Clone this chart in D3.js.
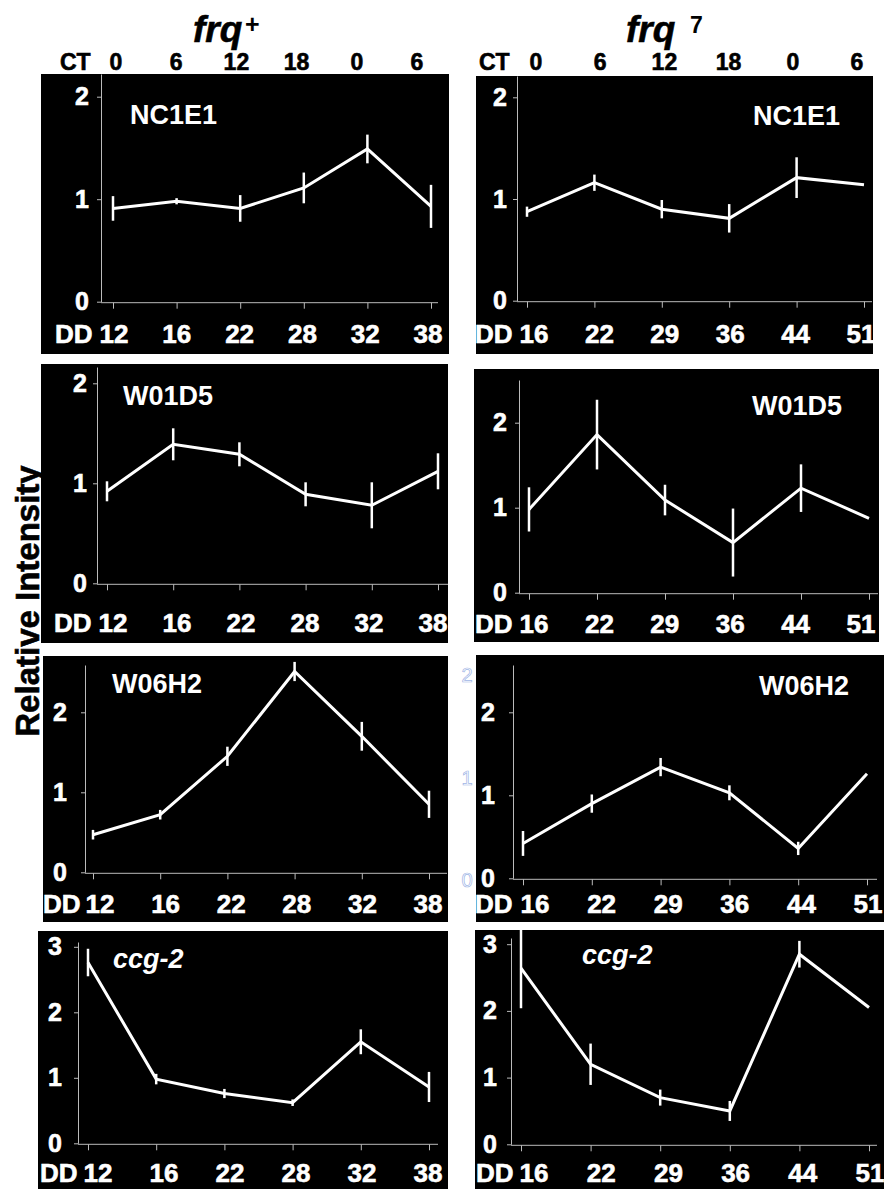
<!DOCTYPE html>
<html>
<head>
<meta charset="utf-8">
<script src="https://cdn.jsdelivr.net/npm/d3@7"></script>
<style>
  body { margin: 0; background: #fff; }
  svg { display: block; font-family: "Liberation Sans", Arial, sans-serif; font-weight: bold; }
  text.heavy { stroke-width: 0.6px; paint-order: stroke; }
</style>
</head>
<body>
<svg></svg>
<script>
'use strict';

const width = 884, height = 1189;

// sampling times (hours in DD) and circadian time labels
let ddPlus = [12, 16, 22, 28, 32, 38];
let ddSeven = [16, 22, 29, 36, 44, 51];
let ctHours = ["0", "6", "12", "18", "0", "6"];

// relative intensity, frq+ strain
let nc1e1Plus = [0.91, 0.98, 0.91, 1.11, 1.49, 0.93];
let nc1e1PlusErr = [0.12, 0.03, 0.13, 0.15, 0.14, 0.21];
let w01d5Plus = [0.92, 1.39, 1.29, 0.89, 0.78, 1.12];
let w01d5PlusErr = [0.10, 0.16, 0.12, 0.12, 0.23, 0.18];
let w06h2Plus = [0.47, 0.72, 1.45, 2.51, 1.70, 0.85];
let w06h2PlusErr = [0.06, 0.06, 0.12, 0.12, 0.18, 0.17];
let ccg2Plus = [2.76, 0.98, 0.76, 0.62, 1.55, 0.86];
let ccg2PlusErr = [0.21, 0.08, 0.07, 0.05, 0.19, 0.23];

// relative intensity, frq7 strain
let nc1e1Seven = [0.875, 1.16, 0.90, 0.81, 1.21, 1.14];
let nc1e1SevenErr = [0.05, 0.08, 0.09, 0.14, 0.20, 0];
let w01d5Seven = [0.98, 1.86, 1.09, 0.59, 1.23, 0.875];
let w01d5SevenErr = [0.26, 0.41, 0.18, 0.40, 0.28, 0];
let w06h2Seven = [0.42, 0.90, 1.34, 1.03, 0.36, 1.26];
let w06h2SevenErr = [0.15, 0.11, 0.11, 0.09, 0.08, 0];
let ccg2Seven = [2.64, 1.20, 0.70, 0.50, 2.85, 2.05];
let ccg2SevenErr = [0.60, 0.31, 0.12, 0.15, 0.20, 0];

// panel layout (pixels), data pulled from the arrays above
let panels = [
  {gene: "NC1E1", dd: ddPlus, v: nc1e1Plus, e: nc1e1PlusErr, box: [41, 74, 449, 354],
   ax: 101, zero: 301.7, unit: 102.5, top: 74, xr: [113, 431], xEnd: 438, lab: [114, 428], ddX: 55, ddY: 343, tr: 89, gx: 130, gy: 124},
  {gene: "NC1E1", dd: ddSeven, v: nc1e1Seven, e: nc1e1SevenErr, box: [476, 76, 873, 354],
   ax: 517, zero: 300.7, unit: 101.7, top: 76, xr: [527, 864], xEnd: 872, lab: [534, 861], ddX: 475, ddY: 343, tr: 507, gx: 753, gy: 125},
  {gene: "W01D5", dd: ddPlus, v: w01d5Plus, e: w01d5PlusErr, box: [41, 364, 448, 643],
   ax: 97, zero: 583.3, unit: 100, top: 367, xr: [107, 438], xEnd: 448, lab: [113, 433], ddX: 54, ddY: 632, tr: 87, gx: 123, gy: 405},
  {gene: "W01D5", dd: ddSeven, v: w01d5Seven, e: w01d5SevenErr, box: [474, 369, 879, 642],
   ax: 519, zero: 592.7, unit: 85, top: 380, xr: [529, 869], xEnd: 878, lab: [534, 861], ddX: 475, ddY: 633, tr: 507, gx: 752, gy: 415},
  {gene: "W06H2", dd: ddPlus, v: w06h2Plus, e: w06h2PlusErr, box: [43, 656, 448, 922],
   ax: 85, zero: 872.3, unit: 80, top: 665, xr: [93, 429], xEnd: 447, lab: [100, 428], ddX: 43, ddY: 913, tr: 67, gx: 112, gy: 693},
  {gene: "W06H2", dd: ddSeven, v: w06h2Seven, e: w06h2SevenErr, box: [476, 655, 884, 922],
   ax: 513, zero: 878.3, unit: 83, top: 665, xr: [523, 867], xEnd: 877, lab: [535, 868], ddX: 475, ddY: 913, tr: 495, gx: 759, gy: 695},
  {gene: "ccg-2", italic: true, dd: ddPlus, v: ccg2Plus, e: ccg2PlusErr, box: [38, 931, 448, 1189],
   ax: 78, zero: 1143.3, unit: 65.5, top: 942, xr: [88, 429], xEnd: 438, lab: [98, 428], ddX: 40, ddY: 1182, tr: 62, gx: 113, gy: 968},
  {gene: "ccg-2", italic: true, dd: ddSeven, v: ccg2Seven, e: ccg2SevenErr, box: [475, 930, 884, 1189],
   ax: 511, zero: 1144.3, unit: 66.7, top: 938, xr: [521, 869], xEnd: 877, lab: [534, 870], ddX: 476, ddY: 1182, tr: 497, gx: 582, gy: 964}
];

// column headers
let heads = [
  {name: "frq", sup: "+", x: 193, supX: 245, supY: 33, ctX: 60, ct: [116, 417]},
  {name: "frq", sup: "7", x: 626, supX: 690, supY: 33, ctX: 479, ct: [536, 857]}
];

let svg = d3.select("svg")
  .attr("width", width)
  .attr("height", height)
  .attr("viewBox", [0, 0, width, height]);

svg.append("rect")
  .attr("width", width)
  .attr("height", height)
  .attr("fill", "#fff");

heads.forEach(h => {
  svg.append("text")
    .attr("class", "heavy")
    .attr("x", h.x)
    .attr("y", 42)
    .attr("font-size", 37)
    .attr("font-style", "italic")
    .attr("fill", "#000")
    .attr("stroke", "#000")
    .text(h.name);
  svg.append("text")
    .attr("x", h.supX)
    .attr("y", h.supY)
    .attr("font-size", h.sup == "+" ? 25 : 23)
    .attr("fill", "#000")
    .text(h.sup);

  let ct = d3.scalePoint().domain(d3.range(ctHours.length)).range(h.ct);
  svg.append("text")
    .attr("class", "heavy")
    .attr("x", h.ctX)
    .attr("y", 70)
    .attr("font-size", 23)
    .attr("fill", "#000")
    .attr("stroke", "#000")
    .text("CT");
  svg.append("g")
    .selectAll("text")
    .data(ctHours)
    .join("text")
      .attr("class", "heavy")
      .attr("x", (d, i) => ct(i))
      .attr("y", 70)
      .attr("text-anchor", "middle")
      .attr("font-size", 23)
      .attr("fill", "#000")
      .attr("stroke", "#000")
      .text(d => d);
});

svg.append("text")
  .attr("class", "heavy")
  .attr("transform", "translate(39,601) rotate(-90)")
  .attr("text-anchor", "middle")
  .attr("font-size", 33)
  .attr("fill", "#000")
  .attr("stroke", "#000")
  .text("Relative Intensity");

panels.forEach(p => {
  let g = svg.append("g");

  g.append("rect")
    .attr("x", p.box[0])
    .attr("y", p.box[1])
    .attr("width", p.box[2] - p.box[0])
    .attr("height", p.box[3] - p.box[1])
    .attr("fill", "#000");

  let yMax = (p.zero - p.top) / p.unit;
  let y = d3.scaleLinear().domain([0, yMax]).range([p.zero, p.top]);
  let x = d3.scalePoint().domain(p.dd).range(p.xr);
  let lx = d3.scalePoint().domain(p.dd).range(p.lab);

  let yAxis = g.append("g")
    .attr("transform", `translate(${p.ax},0)`)
    .call(d3.axisLeft(y)
      .tickValues(d3.range(0, Math.floor(yMax) + 1))
      .tickFormat(d3.format("d"))
      .tickSize(4)
      .tickSizeOuter(0)
      .tickPadding(p.ax - 4 - p.tr));
  yAxis.selectAll("path, line").attr("stroke", "#bbb");
  yAxis.selectAll("text")
    .attr("class", "heavy")
    .attr("fill", "#fff")
    .attr("stroke", "#fff")
    .attr("font-size", 25)
    .attr("font-family", "Liberation Sans, Arial, sans-serif")
    .attr("font-weight", "bold");

  let xAxis = g.append("g")
    .attr("transform", `translate(0,${p.zero + 1})`)
    .call(d3.axisBottom(x).tickSize(6).tickFormat(""));
  xAxis.select(".domain").remove();
  xAxis.selectAll("line").attr("stroke", "#bbb");
  xAxis.append("line")
    .attr("x1", p.ax)
    .attr("x2", p.xEnd)
    .attr("stroke", "#bbb");

  g.append("text")
    .attr("class", "heavy")
    .attr("x", p.ddX)
    .attr("y", p.ddY)
    .attr("font-size", 26)
    .attr("fill", "#fff")
    .attr("stroke", "#fff")
    .text("DD");
  g.append("g")
    .selectAll("text")
    .data(p.dd)
    .join("text")
      .attr("class", "heavy")
      .attr("x", d => lx(d))
      .attr("y", p.ddY)
      .attr("text-anchor", "middle")
      .attr("font-size", 26)
      .attr("fill", "#fff")
      .attr("stroke", "#fff")
      .text(d => d);

  g.append("text")
    .attr("x", p.gx)
    .attr("y", p.gy)
    .attr("font-size", 27)
    .attr("font-style", p.italic ? "italic" : null)
    .attr("fill", "#fff")
    .text(p.gene);

  g.append("path")
    .datum(p.v)
    .attr("fill", "none")
    .attr("stroke", "#fff")
    .attr("stroke-width", 3)
    .attr("d", d3.line()
      .x((d, i) => x(p.dd[i]))
      .y(d => y(d)));

  g.append("g")
    .attr("stroke", "#fff")
    .attr("stroke-width", 2.5)
    .selectAll("line")
    .data(p.v.map((d, i) => ({t: p.dd[i], v: d, e: p.e[i]})).filter(d => d.e > 0))
    .join("line")
      .attr("x1", d => x(d.t))
      .attr("x2", d => x(d.t))
      .attr("y1", d => y(d.v - d.e))
      .attr("y2", d => y(d.v + d.e));
});

// faint leftover tick labels beside the frq7 W06H2 panel
let ghost = d3.scaleLinear().domain([0, 2]).range([880, 675]);
svg.append("g")
  .selectAll("text")
  .data([0, 1, 2])
  .join("text")
    .attr("x", 467)
    .attr("y", d => ghost(d))
    .attr("dy", "0.35em")
    .attr("text-anchor", "middle")
    .attr("font-size", 20)
    .attr("font-weight", "normal")
    .attr("fill", "none")
    .attr("stroke", "#9fb6e6")
    .attr("stroke-width", 0.7)
    .text(d => d);
</script>
</body>
</html>
